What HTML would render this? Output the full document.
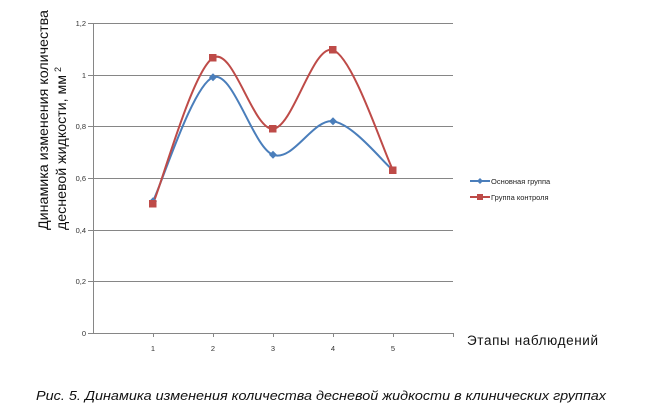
<!DOCTYPE html>
<html><head><meta charset="utf-8"><style>body{margin:0;background:#fff}svg{display:block}</style></head>
<body>
<svg width="649" height="412" viewBox="0 0 649 412" xmlns="http://www.w3.org/2000/svg" font-family="Liberation Sans, sans-serif">
<g stroke="#868686" stroke-width="1">
<line x1="93" y1="23.5" x2="453" y2="23.5"/>
<line x1="93" y1="75.5" x2="453" y2="75.5"/>
<line x1="93" y1="126.5" x2="453" y2="126.5"/>
<line x1="93" y1="178.5" x2="453" y2="178.5"/>
<line x1="93" y1="230.5" x2="453" y2="230.5"/>
<line x1="93" y1="281.5" x2="453" y2="281.5"/>
<line x1="88" y1="333.5" x2="453" y2="333.5"/>
<line x1="93.5" y1="23" x2="93.5" y2="333"/>
<line x1="88" y1="23.5" x2="93" y2="23.5"/><line x1="88" y1="75.5" x2="93" y2="75.5"/><line x1="88" y1="126.5" x2="93" y2="126.5"/><line x1="88" y1="178.5" x2="93" y2="178.5"/><line x1="88" y1="230.5" x2="93" y2="230.5"/><line x1="88" y1="281.5" x2="93" y2="281.5"/>
<line x1="153.5" y1="333" x2="153.5" y2="337"/><line x1="213.5" y1="333" x2="213.5" y2="337"/><line x1="273.5" y1="333" x2="273.5" y2="337"/><line x1="333.5" y1="333" x2="333.5" y2="337"/><line x1="393.5" y1="333" x2="393.5" y2="337"/><line x1="453.5" y1="333" x2="453.5" y2="337"/>
</g>
<g font-size="7.5" fill="#333" text-anchor="end">
<text x="86" y="26">1,2</text><text x="86" y="78">1</text><text x="86" y="129">0,8</text><text x="86" y="181">0,6</text><text x="86" y="233">0,4</text><text x="86" y="284">0,2</text><text x="86" y="336">0</text>
</g>
<g font-size="7.5" fill="#333" text-anchor="middle">
<text x="153" y="351">1</text><text x="213" y="351">2</text><text x="273" y="351">3</text><text x="333" y="351">4</text><text x="393" y="351">5</text>
</g>
<path d="M153,201.2 C163,180.5 193,85 213,77.3 C233,69.6 253,147.5 273,154.8 C293,162.1 313,118.6 333,121.2 C353,123.8 383,162.1 393,170.3" fill="none" stroke="#4a7ebb" stroke-width="2"/>
<path d="M153,203.8 C163,179.5 193,70.4 213,57.9 C233,45.4 253,130.2 273,128.9 C293,127.6 313,43.2 333,50.1 C353,57 383,150.3 393,170.3" fill="none" stroke="#be4b48" stroke-width="2"/>
<g fill="#4a7ebb">
<path d="M153,197.2 l4,4 l-4,4 l-4,-4z"/><path d="M213,73.3 l4,4 l-4,4 l-4,-4z"/><path d="M273,150.8 l4,4 l-4,4 l-4,-4z"/><path d="M333,117.2 l4,4 l-4,4 l-4,-4z"/>
</g>
<g fill="#be4b48">
<rect x="149" y="200" width="7.5" height="7.5"/><rect x="209" y="54" width="7.5" height="7.5"/><rect x="269" y="125" width="7.5" height="7.5"/><rect x="329" y="46" width="7.5" height="7.5"/><rect x="389" y="166.5" width="7.5" height="7.5"/>
</g>
<line x1="470" y1="181" x2="490" y2="181" stroke="#4a7ebb" stroke-width="2"/>
<path d="M480,178 l3,3 l-3,3 l-3,-3z" fill="#4a7ebb"/>
<line x1="470" y1="197" x2="490" y2="197" stroke="#be4b48" stroke-width="2"/>
<rect x="477" y="194" width="6" height="6" fill="#be4b48"/>
<g font-size="7.5" fill="#222">
<text x="491" y="184">Основная группа</text>
<text x="491" y="200">Группа контроля</text>
</g>
<text x="467" y="345" font-size="13.5" fill="#111" textLength="131">Этапы наблюдений</text>
<g font-size="14" fill="#111">
<text transform="translate(48,230) rotate(-90)" textLength="220" lengthAdjust="spacingAndGlyphs">Динамика изменения количества</text>
<text transform="translate(66,230) rotate(-90)" textLength="155" lengthAdjust="spacingAndGlyphs">десневой жидкости, мм</text>
<text transform="translate(61,72) rotate(-90)" font-size="9">2</text>
</g>
<text x="36" y="400" font-size="12.5" font-style="italic" fill="#111" textLength="570" lengthAdjust="spacingAndGlyphs">Рис. 5. Динамика изменения количества десневой жидкости в клинических группах</text>
</svg>
</body></html>
